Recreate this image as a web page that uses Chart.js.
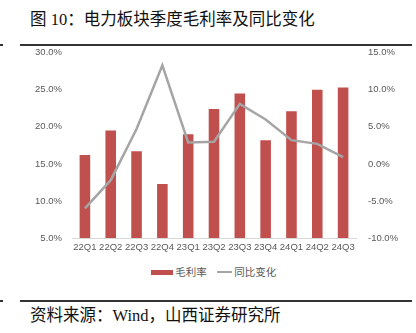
<!DOCTYPE html>
<html>
<head>
<meta charset="utf-8">
<script src="https://cdn.jsdelivr.net/npm/chart.js@4.4.0/dist/chart.umd.min.js"></script>
<style>
  html, body { margin: 0; padding: 0; background: #fff; }
  #page { position: relative; width: 416px; height: 333px; overflow: hidden; }
  .hd { position: absolute; left: 30px; top: 6px; font: 16.5px "Liberation Serif", "Noto Sans CJK SC", serif; color: #111; white-space: nowrap; }
  .rule { position: absolute; height: 1.5px; background: #333; }
  .src { position: absolute; left: 30px; top: 302px; font: 16.5px "Liberation Serif", "Noto Sans CJK SC", serif; color: #111; white-space: nowrap; }
  #wrap { position: absolute; left: 0; top: 35px; width: 416px; height: 225px; }
  .lg { position: absolute; top: 264px; font: 10.5px "Noto Sans CJK SC", sans-serif; color: #595959; white-space: nowrap; line-height: 16px; }
</style>
</head>
<body>
<div id="page">
  <div class="hd">图 10：电力板块季度毛利率及同比变化</div>
  <div id="wrap"><canvas id="chart" width="416" height="225"></canvas></div>
  <div class="rule" style="left:20px; width:392px; top:44px;"></div>
  <div class="rule" style="left:0; width:3px; top:44px;"></div>
  <div class="lg" style="left:151px;"><span style="display:inline-block;width:22px;height:5px;background:#C0504D;vertical-align:middle;margin-top:-2px;"></span> 毛利率</div>
  <div class="lg" style="left:217px;"><span style="display:inline-block;width:15px;height:2px;background:#A5A5A5;vertical-align:middle;margin-top:-2px;"></span> 同比变化</div>
  <div class="rule" style="left:20px; width:392px; top:300px;"></div>
  <div class="rule" style="left:0; width:3px; top:300px;"></div>
  <div class="src">资料来源：Wind，山西证券研究所</div>
</div>
<script>
  // 季度
  const quarters = ['22Q1','22Q2','22Q3','22Q4','23Q1','23Q2','23Q3','23Q4','24Q1','24Q2','24Q3'];
  // 毛利率 (%)
  const grossMargin = [16.2, 19.5, 16.7, 12.3, 19.0, 22.4, 24.5, 18.2, 22.1, 25.0, 25.3];
  // 同比变化 (%)
  const yoyChange = [-6.0, -2.2, 4.7, 13.3, 2.9, 3.0, 8.1, 6.0, 3.2, 2.7, 0.9];

  const tickFont = { family: '"Liberation Sans", Arial, sans-serif', size: 9.5 };
  const tickColor = '#595959';
  const pct = v => Number(v).toFixed(1) + '%';

  new Chart(document.getElementById('chart'), {
    data: {
      labels: quarters,
      datasets: [
        {
          type: 'line',
          label: '同比变化',
          data: yoyChange,
          yAxisID: 'y1',
          borderColor: '#A5A5A5',
          borderWidth: 2.5,
          pointRadius: 0,
          tension: 0,
          order: 0
        },
        {
          type: 'bar',
          label: '毛利率',
          data: grossMargin,
          yAxisID: 'y',
          backgroundColor: '#C0504D',
          barPercentage: 0.41,
          categoryPercentage: 1,
          order: 1
        }
      ]
    },
    options: {
      responsive: false,
      animation: false,
      layout: { padding: { top: 5, left: 0, right: 0, bottom: 0 } },
      plugins: { legend: { display: false }, tooltip: { enabled: false } },
      scales: {
        x: {
          grid: { display: false, drawTicks: false },
          border: { display: true, color: '#D9D9D9', width: 1 },
          ticks: { font: tickFont, color: tickColor, padding: 4, maxRotation: 0, autoSkip: false },
          afterFit: s => { s.height = 22; }
        },
        y: {
          position: 'left',
          min: 5, max: 30,
          grid: { display: false, drawTicks: false },
          border: { display: false },
          ticks: { stepSize: 5, font: tickFont, color: tickColor, padding: 10, callback: pct },
          afterFit: s => { s.width = 72; }
        },
        y1: {
          position: 'right',
          min: -10, max: 15,
          grid: { display: false, drawTicks: false },
          border: { display: false },
          ticks: { stepSize: 5, font: tickFont, color: tickColor, padding: 12, callback: pct },
          afterFit: s => { s.width = 60; }
        }
      }
    }
  });
</script>
</body>
</html>
